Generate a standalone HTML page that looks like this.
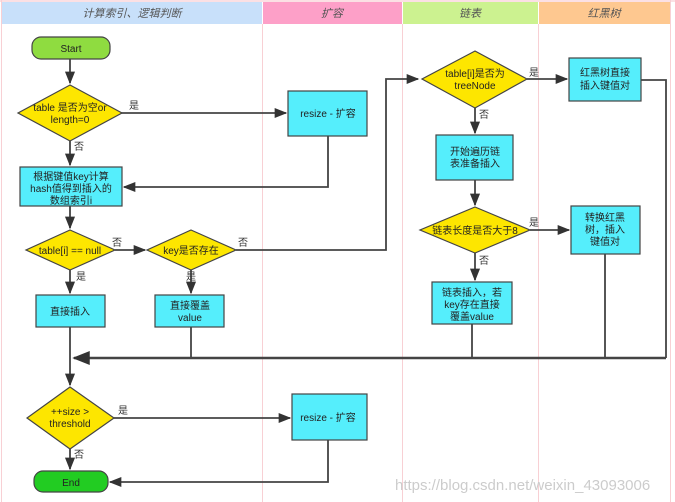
<!DOCTYPE html>
<html><head><meta charset="utf-8"><style>
body{margin:0;background:#fff;}
svg{display:block;font-family:"Liberation Sans","Noto Sans CJK SC",sans-serif;}
</style></head><body>
<svg width="675" height="502" viewBox="0 0 675 502" xmlns="http://www.w3.org/2000/svg">
<defs><marker id="a" viewBox="0 0 10 10" refX="9" refY="5" markerWidth="7" markerHeight="7" orient="auto"><path d="M0,1 L10,5 L0,9z" fill="#333"/></marker></defs>
<rect x="0" y="0" width="675" height="502" fill="#fff"/>
<rect x="0" y="0" width="675" height="2" fill="#fbe0e4"/>
<rect x="2" y="2" width="260" height="22" fill="#c8e0fa"/>
<rect x="263" y="2" width="139" height="22" fill="#fda0c8"/>
<rect x="403" y="2" width="135" height="22" fill="#ccf290"/>
<rect x="539" y="2" width="131" height="22" fill="#fec890"/>
<g fill="#555" font-size="11" font-style="italic" text-anchor="middle">
<text x="132" y="17">计算索引、逻辑判断</text><text x="332" y="17">扩容</text><text x="470" y="17">链表</text><text x="604" y="17">红黑树</text></g>
<g stroke="#f8d0d4" stroke-width="1"><line x1="262.5" y1="24" x2="262.5" y2="502"/><line x1="402.5" y1="24" x2="402.5" y2="502"/><line x1="538.5" y1="24" x2="538.5" y2="502"/><line x1="670.5" y1="0" x2="670.5" y2="502"/><line x1="1.5" y1="0" x2="1.5" y2="502"/></g>
<g stroke="#444" stroke-width="1.8" fill="none">
<line x1="70" y1="59" x2="70" y2="83" marker-end="url(#a)"/>
<line x1="120" y1="113" x2="286" y2="113" marker-end="url(#a)"/>
<polyline points="328,136 328,187 124,187" marker-end="url(#a)"/>
<line x1="70" y1="141" x2="70" y2="165" marker-end="url(#a)"/>
<line x1="70" y1="206" x2="70" y2="228" marker-end="url(#a)"/>
<line x1="115" y1="250" x2="145" y2="250" marker-end="url(#a)"/>
<polyline points="236,250 386,250 386,79 418,79" marker-end="url(#a)"/>
<line x1="70" y1="270" x2="70" y2="293" marker-end="url(#a)"/>
<line x1="191" y1="270" x2="191" y2="293" marker-end="url(#a)"/>
<line x1="527" y1="79" x2="567" y2="79" marker-end="url(#a)"/>
<line x1="475" y1="108" x2="475" y2="133" marker-end="url(#a)"/>
<line x1="475" y1="180" x2="475" y2="205" marker-end="url(#a)"/>
<line x1="530" y1="230" x2="569" y2="230" marker-end="url(#a)"/>
<line x1="475" y1="253" x2="475" y2="280" marker-end="url(#a)"/>
<polyline points="641,80 666,80 666,358"/>
<line x1="605" y1="254" x2="605" y2="358"/>
<line x1="472" y1="324" x2="472" y2="358"/>
<line x1="191" y1="327" x2="191" y2="358"/>
<line x1="666" y1="358" x2="74" y2="358" stroke-width="2.5" marker-end="url(#a)"/>
<line x1="70" y1="327" x2="70" y2="385" marker-end="url(#a)"/>
<line x1="114" y1="418" x2="290" y2="418" marker-end="url(#a)"/>
<polyline points="328,440 328,482 110,482" marker-end="url(#a)"/>
<line x1="70" y1="449" x2="70" y2="469" marker-end="url(#a)"/>
</g>
<g stroke="#444" stroke-width="1.2">
<rect x="32" y="37" width="78" height="22" rx="9" fill="#8fdc40"/>
<rect x="34" y="471" width="74" height="21" rx="9" fill="#22cc22"/>
<g fill="#fde600">
<polygon points="70,85 122,113 70,141 18,113"/>
<polygon points="70,230 115,250 70,270 26,250"/>
<polygon points="191,230 236,250 191,270 147,250"/>
<polygon points="475,51 527,79 475,108 422,79"/>
<polygon points="475,207 530,230 475,253 420,230"/>
<polygon points="70,387 114,418 70,449 27,418"/>
</g>
<g fill="#55eefc">
<rect x="288" y="91" width="79" height="45"/>
<rect x="20" y="167" width="102" height="39"/>
<rect x="36" y="295" width="69" height="32"/>
<rect x="155" y="295" width="69" height="32"/>
<rect x="569" y="58" width="72" height="43"/>
<rect x="436" y="135" width="77" height="45"/>
<rect x="571" y="206" width="69" height="48"/>
<rect x="432" y="282" width="80" height="42"/>
<rect x="292" y="394" width="75" height="46"/>
</g></g>
<g fill="#222" font-size="10" text-anchor="middle">
<text x="71" y="52">Start</text><text x="71" y="486">End</text>
<text x="70" y="111">table 是否为空or</text><text x="70" y="123">length=0</text>
<text x="328" y="117">resize - 扩容</text>
<text x="71" y="180">根据键值key计算</text><text x="71" y="192">hash值得到插入的</text><text x="71" y="204">数组索引i</text>
<text x="70" y="254">table[i] == null</text><text x="191" y="254">key是否存在</text>
<text x="70" y="315">直接插入</text><text x="190" y="309">直接覆盖</text><text x="190" y="321">value</text>
<text x="475" y="77">table[i]是否为</text><text x="475" y="89">treeNode</text>
<text x="605" y="76">红黑树直接</text><text x="605" y="89">插入键值对</text>
<text x="475" y="155">开始遍历链</text><text x="475" y="167">表准备插入</text>
<text x="475" y="234">链表长度是否大于8</text>
<text x="605" y="221">转换红黑</text><text x="605" y="233">树，插入</text><text x="605" y="245">键值对</text>
<text x="472" y="296">链表插入，若</text><text x="472" y="308">key存在直接</text><text x="472" y="320">覆盖value</text>
<text x="70" y="415">++size &gt;</text><text x="70" y="427">threshold</text>
<text x="328" y="421">resize - 扩容</text>
</g>
<g fill="#333" font-size="10">
<text x="129" y="109">是</text><text x="74" y="150">否</text><text x="112" y="246">否</text><text x="238" y="246">否</text>
<text x="76" y="280">是</text><text x="186" y="280">是</text><text x="529" y="76">是</text><text x="479" y="118">否</text>
<text x="529" y="226">是</text><text x="479" y="264">否</text><text x="118" y="414">是</text><text x="74" y="458">否</text>
</g>
<text x="395" y="490" fill="#ccc" font-size="15">https://blog.csdn.net/weixin_43093006</text>
</svg>
</body></html>
